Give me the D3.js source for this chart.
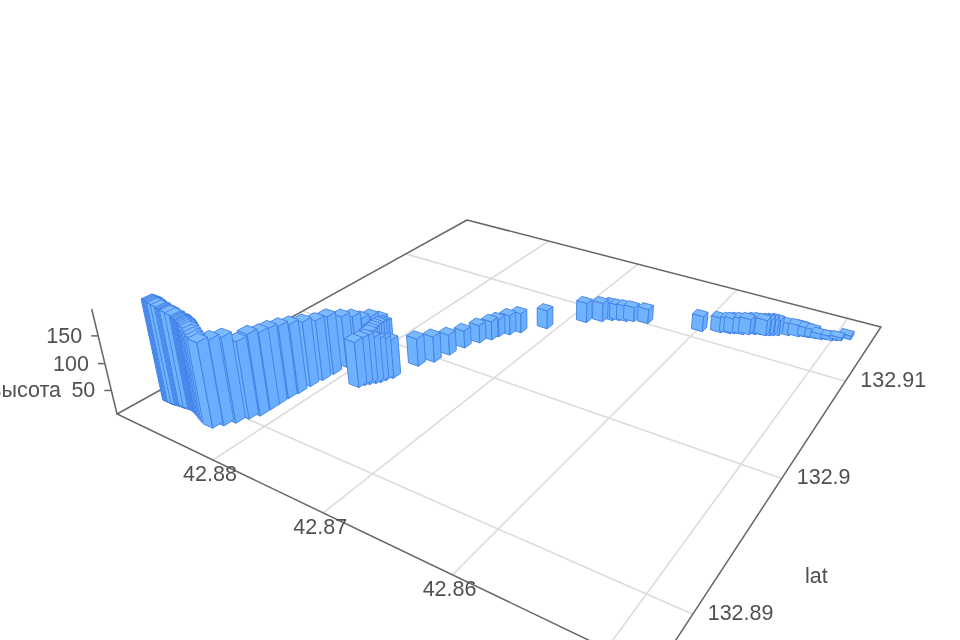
<!DOCTYPE html>
<html><head><meta charset="utf-8"><style>body{margin:0;background:#fff}svg{display:block;filter:blur(0.45px)}text{font-family:"Liberation Sans",Arial,sans-serif;font-size:21.5px;fill:#505050}</style>
<script src="https://cdn.jsdelivr.net/npm/d3@7"></script></head><body><svg id="chart" width="960" height="640"></svg>
<script>
var lngValues = [42.88836,42.88826,42.88816,42.88806,42.88796,42.88786,42.88755,
  42.8872,42.8871,42.887,42.8869,42.8868,42.88635,
  42.8859,42.88578,42.88566,42.88554,42.88542,42.8853,42.88518,42.88506,42.8849,42.8847,42.88435,42.88405,42.88372,
  42.88339,42.88295,42.88249,42.88209,42.88171,42.88168,
  42.88168,42.88164,42.88151,42.88145,42.88128,42.88118,42.88104,42.88089,42.88098,42.88059,42.87998,
  42.87922,42.8792,42.87916,42.87903,42.87889,42.87868,42.87846,
  42.87828,42.87809,42.87786,42.87757,42.87734,
  42.87721,42.87694,42.87644,42.87576,42.87541,42.87506,42.87451,42.87396,42.87376,42.87318,42.8726,42.87113,42.86889,42.86783,42.8672,42.86669,
  42.86611,42.8656,42.86443,42.85999,42.85859,42.85789,42.8576,42.85732,42.85691,42.85649,42.85607,42.85571,42.8553,42.85502,42.85474,42.85439,
  42.85369,42.85293,42.85258,42.85218,42.85164,42.85117,42.85082,42.85042,42.85007,42.84979,42.84922];
var latValues = [132.88915,132.88915,132.88915,132.88916,132.88916,132.88917,132.8892,
  132.88923,132.88924,132.88926,132.88927,132.88928,132.8893,
  132.88932,132.88931,132.8893,132.88929,132.88928,132.88927,132.88925,132.88923,132.88918,132.88913,132.88903,132.88895,132.88887,
  132.88881,132.88925,132.88974,132.89035,132.89085,132.89153,
  132.89209,132.89279,132.89343,132.89428,132.89509,132.89587,132.89682,132.89753,132.89828,132.89873,132.89901,
  132.89871,132.89848,132.89824,132.89792,132.8976,132.89725,132.89691,
  132.89561,132.89594,132.89616,132.89641,132.89664,
  132.89694,132.89731,132.89905,132.89988,132.90096,132.90207,132.90301,132.90368,132.9042,132.90475,132.90531,132.90656,132.90848,132.90911,132.90955,132.90978,
  132.9099,132.91013,132.91036,132.91121,132.9117,132.91188,132.91201,132.91214,132.91218,132.91237,132.91257,132.91273,132.91277,132.9129,132.91303,132.91319,
  132.91351,132.91371,132.91387,132.91391,132.91402,132.91409,132.91425,132.91429,132.91445,132.91457,132.91498];
var heights = [193,193,192,191,190,189,187,
  184,183,182,182,181,179,
  176,175,175,174,173,173,172,171,170,169,167,165,163,
  161,162,162,148,156,149,
  147,142,137,129,121,118,105,96,81,81,77,
  78,80,82,84,86,88,90,
  93,95,97,93,88,
  84,79,60,56,46,40,41,43,41,45,45,43,46,44,40,37,
  37,35,35,37,35,35,35,35,37,37,37,37,37,37,37,37,
  30,28,26,24,22,16,13,13,11,11,13];
var lngTicks = [42.88,42.87,42.86,42.85];
var lngLabels = [42.88,42.87,42.86];
var latTicks = [132.89,132.9,132.91];
var heightTicks = [50,100,150];
var lngDomain = [42.8901,42.8472], latDomain = [132.8867,132.9172], heightDomain = [5,197];

var uScale = d3.scaleLinear().domain(lngDomain).range([0,1]);
var vScale = d3.scaleLinear().domain(latDomain).range([0,1]);
var zScale = d3.scaleLinear().domain(heightDomain).range([0,1]);

// floor plane homography fitted to the 4 corners + vertical vanishing point (540,2170)
function project(u,v,z){
  var pz = -0.0564*z,
      w = -0.2949*u + 0.4605*v + 1 + pz;
  return [(344.8*u + 565.05*v + 117 + pz*540)/w, (59.8*u - 92.7*v + 414 + pz*2170)/w];
}
function depth(u,v){ return -0.2949*u + 0.4605*v; }

var svg = d3.select("#chart");
var line = d3.line();

function floorLine(p,q){ return line([project(p[0],p[1],0),project(q[0],q[1],0)]); }

// grid
var grid = svg.append("g").attr("fill","none").attr("stroke","#dcdcdc").attr("stroke-width",1.6);
grid.selectAll(".gx").data(lngTicks).enter().append("path")
  .attr("d",function(d){ return floorLine([uScale(d),0],[uScale(d),1]); });
grid.selectAll(".gy").data(latTicks).enter().append("path")
  .attr("d",function(d){ return floorLine([0,vScale(d)],[1,vScale(d)]); });

// axis box
var axis = svg.append("g").attr("fill","none").attr("stroke","#666").attr("stroke-width",1.5);
axis.append("path").attr("d",line([project(0,1,0),project(0,0,0),project(1,0,0),project(1,1,0),project(0,1,0)]));
axis.append("path").attr("d",line([project(0,0,0),project(0,0,1)]));
axis.selectAll(".tz").data(heightTicks).enter().append("path")
  .attr("d",function(d){ var p = project(0,0,zScale(d)); return line([p,[p[0]-7,p[1]]]); });

// bars, far ones first
var su = 0.0115, sv = 0.0105;
var rows = lngValues.map(function(d,i){ return {u:uScale(d), v:vScale(latValues[i]), z:zScale(heights[i])}; });
rows.sort(function(a,b){ return d3.descending(depth(a.u,a.v),depth(b.u,b.v)); });

var bars = svg.append("g").attr("stroke","#3f7fe6").attr("stroke-width",0.9).attr("stroke-linejoin","round");
bars.selectAll("g").data(rows).enter().append("g").each(function(d){
  var g = d3.select(this),
      u0 = d.u-su, u1 = d.u+su, v0 = d.v-sv, v1 = d.v+sv;
  var faces = [
    {fill:"#6fb3ff", pts:[[u0,v0,0],[u1,v0,0],[u1,v0,d.z],[u0,v0,d.z]]},
    {fill:"#6aaeff", pts:[[u1,v0,0],[u1,v1,0],[u1,v1,d.z],[u1,v0,d.z]]},
    {fill:"#7cbaff", pts:[[u0,v0,d.z],[u1,v0,d.z],[u1,v1,d.z],[u0,v1,d.z]]}
  ];
  faces.forEach(function(f){
    g.append("path").attr("fill",f.fill)
      .attr("d",line(f.pts.map(function(q){ return project(q[0],q[1],q[2]); }))+"Z");
  });
});

// labels
var labels = svg.append("g");
labels.selectAll(".lx").data(lngLabels).enter().append("text")
  .attr("text-anchor","middle")
  .attr("x",function(d){ return project(uScale(d),0,0)[0]-3; })
  .attr("y",function(d){ return project(uScale(d),0,0)[1]+21; })
  .text(function(d){ return d; });
labels.selectAll(".ly").data(latTicks).enter().append("text")
  .attr("x",function(d){ return project(1,vScale(d),0)[0]+15; })
  .attr("y",function(d){ return project(1,vScale(d),0)[1]+6; })
  .text(function(d){ return d; });
labels.selectAll(".lz").data(heightTicks).enter().append("text")
  .attr("text-anchor","end")
  .attr("x",function(d){ return project(0,0,zScale(d))[0]-16; })
  .attr("y",function(d){ return project(0,0,zScale(d))[1]+7; })
  .text(function(d){ return d; });
labels.append("text").attr("text-anchor","end").attr("x",61).attr("y",397).text("высота");
labels.append("text").attr("x",805).attr("y",583).text("lat");
</script></body></html>
